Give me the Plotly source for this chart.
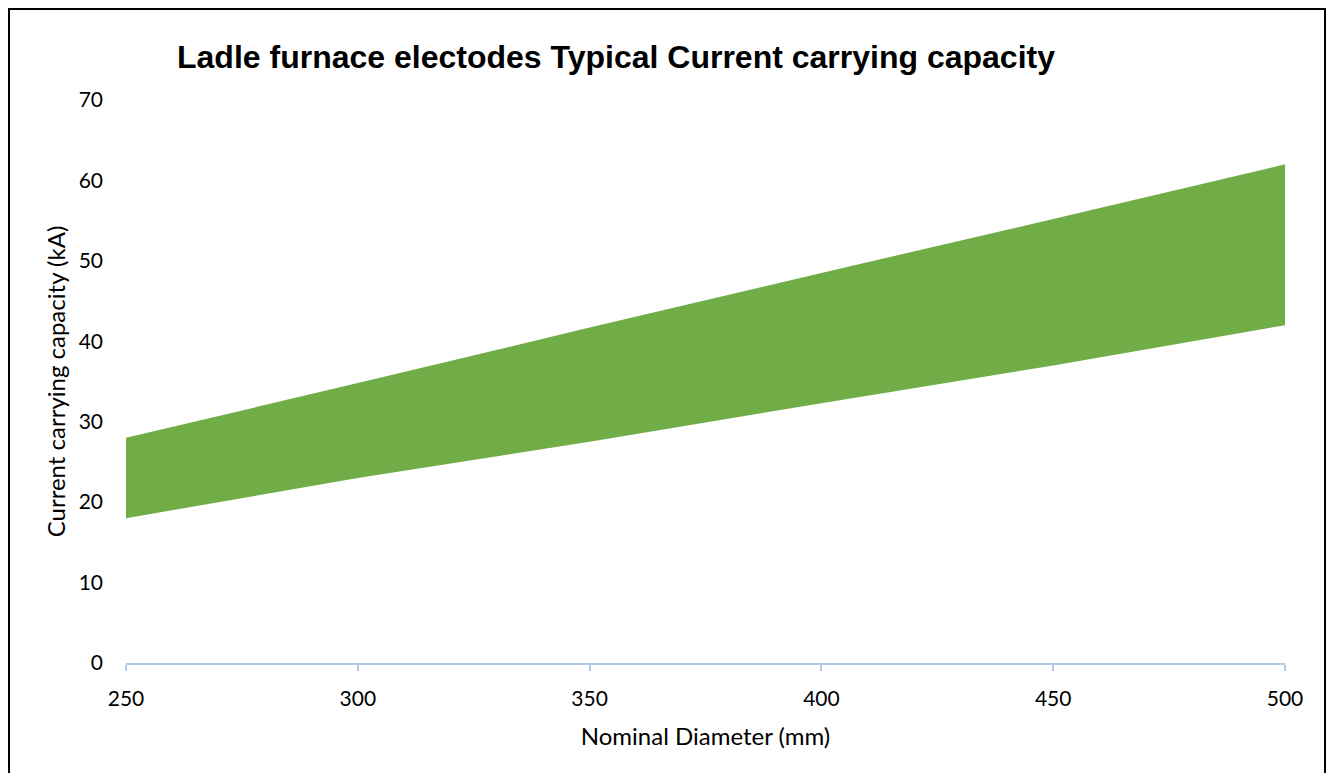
import plotly.graph_objects as go

diameters = [250, 300, 350, 400, 450, 500]
lower_ka = [18, 23, 27.5, 32.3, 37, 42]
upper_ka = [28, 34.8, 41.7, 48.5, 55.2, 62]

title_text = "Ladle furnace electodes Typical Current carrying capacity"
x_title = "Nominal Diameter (mm)"
y_title = "Current carrying capacity (kA)"

# page body has an 8px margin, so the figure is drawn 8px in from the window edge
W, H = 1318, 765
L, R, T, B = 118, 41, 92, 110
pw, ph = W - L - R, H - T - B


def px(x):
    return (x - L) / pw


def py(y):
    return (H - B - y) / ph


fig = go.Figure()
fig.add_trace(go.Scatter(x=diameters, y=lower_ka, mode="lines",
                         line=dict(width=0, color="#70ad47"), showlegend=False,
                         hoverinfo="skip"))
fig.add_trace(go.Scatter(x=diameters, y=upper_ka, mode="lines",
                         line=dict(width=0, color="#70ad47"), fill="tonexty",
                         fillcolor="#70ad47", showlegend=False))

tick_font = dict(family="Lato, Open Sans, sans-serif", size=21, color="#000000")
title_font_ax = dict(family="Lato, Open Sans, sans-serif", size=24, color="#000000")

border_path = "M {x0} {y0} L {x0} {y1} L {x1} {y1} L {x1} {y0}".format(
    x0=px(1), x1=px(W - 1), y0=py(H + 5), y1=py(1))

fig.update_layout(
    width=W, height=H,
    margin=dict(l=L, r=R, t=T, b=B),
    paper_bgcolor="white", plot_bgcolor="white",
    title=dict(text="<b>" + title_text + "</b>", x=608 / W,
               xanchor="center", y=1 - 49 / H, yanchor="middle",
               font=dict(family="Liberation Sans, Arial, sans-serif", size=32, color="#000000")),
    xaxis=dict(range=[250, 500], tickvals=diameters, showgrid=False, zeroline=False,
               showline=True, linecolor="#b4c7e7", linewidth=2,
               ticks="outside", ticklen=6, tickcolor="#b4c7e7", tickwidth=1.5,
               tickfont=tick_font, ticklabelstandoff=10,
               title=dict(text=x_title, font=title_font_ax, standoff=19)),
    yaxis=dict(range=[0, 70], dtick=10, showgrid=False, zeroline=False,
               showline=False, ticks="", tickfont=tick_font, ticklabelstandoff=22,
               title=dict(text=y_title, font=title_font_ax, standoff=6)),
    shapes=[dict(type="path", xref="paper", yref="paper", path=border_path,
                 line=dict(color="#000000", width=2), layer="below")],
)

fig.write_html("out.html")
